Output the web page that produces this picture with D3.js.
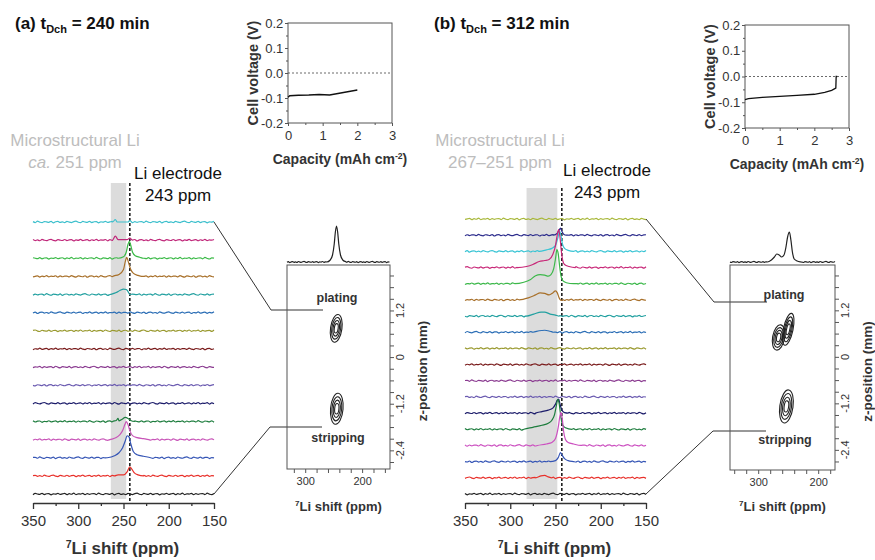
<!DOCTYPE html>
<html>
<head>
<meta charset="utf-8">
<script src="https://cdn.jsdelivr.net/npm/d3@7"></script>
<style>
  body { margin: 0; background: #fff; }
  svg { font-family: "Liberation Sans", Arial, sans-serif; }
</style>
</head>
<body>
<div id="container"></div>
<script>
// ---- data ----
const shiftTicks = [350, 300, 250, 200, 150];
const shiftMinor = [325, 275, 225, 175];
const mapShiftLabels = [300, 200];
const zLabels = [1.2, 0, -1.2, -2.4];
const voltTicks = [-0.2, -0.1, 0, 0.1, 0.2];
const capTicks = [0, 1, 2, 3];

// cell voltage curves
const capA = [0, 0.05, 0.3, 0.6, 0.9, 1.2, 1.4, 1.6, 1.8, 2.0];
const voltA = [-0.097, -0.091, -0.089, -0.088, -0.086, -0.088, -0.083, -0.078, -0.073, -0.068];
const capB = [0, 0.1, 0.5, 1.0, 1.5, 2.0, 2.3, 2.5, 2.62, 2.63, 2.66];
const voltB = [-0.09, -0.086, -0.081, -0.077, -0.073, -0.069, -0.062, -0.054, -0.045, 0.0, 0.0];

// stacked spectra colours, top to bottom
const colorsA = ["#3bbfcc", "#c0287a", "#3cba48", "#a8702a", "#22a0a0", "#2a6db5", "#9a9a30", "#7a1c1c",
                 "#8a3a90", "#6a5ab0", "#1c1c6a", "#1e7d3e", "#c855b8", "#3555b5", "#e8302a", "#222222"];
const colorsB = ["#a8b83a", "#2c2c8c", "#38c4d4", "#c82878", "#3cb84a", "#a8702a", "#22a0a0", "#2a6db5", "#9a9a30",
                 "#7a1c1c", "#8a3a90", "#6a5ab0", "#1c1c6a", "#1e7d3e", "#cc50c0", "#3555b5", "#e8302a", "#222222"];

// peak regions [ppm, intensity], top to bottom (null = flat)
const peaksA = [
  [[262, 0], [259, 2.5], [257, 0], [245, 0], [243, 1.5], [241, 0]],
  [[262, 0], [259, 4], [256, 0.5], [246, 0.5], [243, 2], [240, 0]],
  [[256, 0], [250, 1.5], [247, 6], [245, 14], [243.5, 17], [242, 13], [240, 6], [237, 2.5], [232, 1], [228, 0]],
  [[262, 0], [255, 2], [250, 7], [248, 15], [246.5, 19], [244.5, 14], [242, 7], [239, 3], [234, 1], [230, 0]],
  [[265, 0], [258, 2], [254, 4], [250, 5.5], [247, 5], [245, 3], [243, 0], [240, 0.5], [236, 0]],
  null, null, null, null, null, null,
  [[262, 0], [258, 1], [256, 3], [255, 0.5], [252, 2], [248, 4], [245, 3], [242, 1], [238, 0]],
  [[265, 0], [258, 2], [254, 5], [251, 9], [248.5, 15], [247, 18], [245, 15], [243, 9], [240, 4], [235, 2], [228, 1], [222, 0]],
  [[268, 0], [260, 2], [255, 5], [251, 10], [248, 17], [246, 22], [244, 21], [242, 14], [239, 6], [235, 3], [228, 1.5], [220, 0]],
  [[260, 0], [256, 1], [250, 1], [246, 4], [243, 9], [241, 7], [238, 3], [234, 1], [228, 0]],
  null
];
const peaksB = [
  null,
  [[252, 0], [248, 2], [246, 5], [244.5, 7], [243, 4], [241, 1], [238, 0]],
  [[268, 0], [260, 1.5], [254, 3], [250, 6], [247.5, 13], [245.5, 20], [244, 16], [242.5, 8], [240, 3], [236, 1], [230, 0]],
  [[292, 0], [282, 1], [275, 3], [268, 6], [262, 7], [257, 8], [253, 13], [250, 22], [248, 33], [246.5, 38], [245, 30], [243.5, 16], [242, 7], [240, 3], [235, 1], [228, 0]],
  [[295, 0], [285, 1.5], [278, 4], [272, 8], [267, 9], [262, 8.5], [258, 7.5], [255, 9], [252, 15], [250, 25], [248.5, 34], [247, 30], [245.5, 18], [244, 8], [242, 3], [238, 1], [230, 0]],
  [[290, 0], [280, 2], [272, 5], [267, 7], [262, 6.5], [257, 5], [253, 7], [250, 9], [248, 7], [246, 2], [244, -0.5], [241, 0]],
  [[282, 0], [274, 2], [266, 4], [262, 4], [256, 2], [250, 1], [246, 0]],
  [[275, 0], [268, 1.5], [262, 2], [256, 1], [252, 0]],
  null, null, null, null,
  [[272, 0], [265, 1.5], [258, 3], [253, 5], [250, 9], [248, 13], [246.5, 14], [245, 9], [243, 3], [240, 0.5], [236, 0]],
  [[285, 0], [275, 2], [265, 4], [258, 6], [254, 9], [251, 15], [249, 24], [247.5, 30], [246, 26], [244, 12], [242, 4], [239, 1.5], [232, 0]],
  [[270, 0], [260, 1.5], [254, 3], [250, 7], [247, 18], [245, 30], [244, 33], [242.5, 27], [241, 14], [239, 6], [236, 3], [230, 1.5], [222, 0]],
  [[256, 0], [250, 1], [247, 4], [244.5, 9], [243, 7], [240, 3], [236, 1], [230, 0]],
  [[272, 0], [266, 2], [262, 2.5], [258, 1], [254, 0]],
  null
];

// summed projections over the 2D maps
const projA = [[262, 0], [256, 2], [252, 7], [249, 18], [247, 30], [245, 36], [243, 30], [241, 18], [238, 7], [234, 2], [228, 0]];
const projB = [[285, 0], [278, 2], [273, 5], [269, 8], [265, 7], [261, 5], [257, 7], [254, 14], [251, 25], [248, 30], [245.5, 22], [243, 10], [240, 3], [235, 1], [228, 0]];

// 2D contour blobs: centre ppm, centre z (mm), half widths (ppm, mm), tilt (deg)
const blobsA = [
  {ppm: 245.5, z: 0.74, dppm: 10, dz: 0.36, tilt: 8},
  {ppm: 244.5, z: -1.33, dppm: 11, dz: 0.40, tilt: 5}
];
const blobsB = [
  {ppm: 250, z: 0.71, dppm: 8, dz: 0.42, tilt: 12},
  {ppm: 266, z: 0.5, dppm: 10, dz: 0.33, tilt: 10},
  {ppm: 253, z: -1.28, dppm: 11, dz: 0.43, tilt: 8}
];
const levels = [1, 0.78, 0.56, 0.34];

// baseline noise texture (px)
const wiggle = [0.4, -0.6, 0.9, -0.2, -0.8, 0.5, 0.1, -0.4, 0.7, -0.9, 0.3, 0.6, -0.5, 0.2, -0.7, 0.8,
                -0.1, -0.6, 0.4, 0.9, -0.3, -0.8, 0.6, 0.0, -0.4, 0.7, -0.6, 0.3, 0.5, -0.9, 0.2, -0.2,
                0.8, -0.5, 0.1, 0.6, -0.7, 0.4, -0.3, 0.9, -0.6, 0.2, -0.1, 0.7, -0.8, 0.5, -0.4, 0.3];

// ---- drawing ----
const svg = d3.select("#container").append("svg").attr("width", 875).attr("height", 560);
const ink = "#333";

function spectrumPoints(peak, from, to, seed, amp) {
  const lo = peak ? d3.min(peak, d => d[0]) : null;
  const hi = peak ? d3.max(peak, d => d[0]) : null;
  const pts = [];
  let k = 0;
  for (let p = from; p >= to - 0.01; p -= 2.5, k++) {
    if (peak && p >= lo && p <= hi) continue;
    pts.push([p, amp * wiggle[(k + seed * 11) % wiggle.length]]);
  }
  if (peak) peak.forEach(d => pts.push(d));
  pts.sort((a, b) => b[0] - a[0]);
  return pts;
}

function superText(g, x, y, size, parts, anchor) {
  const t = g.append("text").attr("x", x).attr("y", y).attr("font-size", size)
    .attr("font-weight", "bold").attr("fill", ink).attr("text-anchor", anchor || "middle");
  parts.forEach(p => {
    const s = t.append("tspan").text(p.t);
    if (p.sup) s.attr("font-size", size * 0.62).attr("dy", -size * 0.38);
    if (p.back) s.attr("dy", size * 0.38);
  });
  return t;
}

function drawTitle(x, label, t) {
  const txt = svg.append("text").attr("x", x).attr("y", 29).attr("font-size", 17)
    .attr("font-weight", "bold").attr("fill", "#111");
  txt.append("tspan").text(label + " t");
  txt.append("tspan").text("Dch").attr("font-size", 11).attr("dy", 4);
  txt.append("tspan").text(" = " + t + " min").attr("dy", -4);
}

function drawVoltage(c, caps, volts) {
  const g = svg.append("g");
  const x = d3.scaleLinear().domain([0, 3]).range([c.x0, c.x1]);
  const y = d3.scaleLinear().domain([-0.2, 0.2]).range([c.y1, c.y0]);
  g.append("rect").attr("x", c.x0).attr("y", c.y0).attr("width", c.x1 - c.x0).attr("height", c.y1 - c.y0)
    .attr("fill", "none").attr("stroke", "#555").attr("stroke-width", 1);
  const ax = g.append("g").attr("transform", `translate(0,${c.y1})`)
    .call(d3.axisBottom(x).tickValues(capTicks).tickSize(3).tickSizeOuter(0).tickFormat(d3.format("d")));
  g.append("g").attr("transform", `translate(0,${c.y1})`)
    .call(d3.axisBottom(x).tickValues([0.5, 1.5, 2.5]).tickSize(2).tickFormat(""));
  const ay = g.append("g").attr("transform", `translate(${c.x0},0)`)
    .call(d3.axisLeft(y).tickValues(voltTicks).tickSize(3).tickSizeOuter(0).tickFormat(d => d.toFixed(1)));
  g.append("g").attr("transform", `translate(${c.x0},0)`)
    .call(d3.axisLeft(y).tickValues([-0.15, -0.05, 0.05, 0.15]).tickSize(2).tickFormat(""));
  g.selectAll(".domain").remove();
  g.selectAll(".tick line").attr("stroke", "#555");
  ax.selectAll("text").attr("font-size", 13).attr("fill", ink).attr("font-family", null).attr("dy", "0.85em");
  ay.selectAll("text").attr("font-size", 13).attr("fill", ink).attr("font-family", null).attr("dx", "0.1em");
  g.append("line").attr("x1", c.x0).attr("x2", c.x1).attr("y1", y(0)).attr("y2", y(0))
    .attr("stroke", "#444").attr("stroke-dasharray", "2,2").attr("stroke-width", 0.8);
  g.append("path").datum(caps.map((d, i) => [d, volts[i]]))
    .attr("d", d3.line().x(d => x(d[0])).y(d => y(d[1])))
    .attr("fill", "none").attr("stroke", "#111").attr("stroke-width", 1.3);
  const cy = (c.y0 + c.y1) / 2;
  g.append("text").attr("transform", `translate(${c.x0 - 30},${cy}) rotate(-90)`)
    .attr("text-anchor", "middle").attr("font-size", 14.5).attr("font-weight", "bold").attr("fill", ink)
    .text("Cell voltage (V)");
  superText(g, (c.x0 + c.x1) / 2, c.y1 + 41, 14,
    [{t: "Capacity (mAh cm"}, {t: "-2", sup: true}, {t: ")", back: true}]);
}

function drawStack(c, colors, peaks) {
  const g = svg.append("g");
  const x = d3.scaleLinear().domain([350, 150]).range([c.x0, c.x1]);
  const row = d3.scalePoint().domain(d3.range(colors.length)).range([c.top, c.bottom]);
  const amp = d3.scaleLinear().domain([0, 40]).range([0, -40]);
  g.append("rect").attr("x", x(c.band[0])).attr("y", c.bandTop)
    .attr("width", x(c.band[1]) - x(c.band[0])).attr("height", c.axisY - 4 - c.bandTop)
    .attr("fill", "#dcdcdc");
  g.append("line").attr("x1", x(243)).attr("x2", x(243)).attr("y1", c.bandTop).attr("y2", c.axisY)
    .attr("stroke", "#111").attr("stroke-width", 1.5).attr("stroke-dasharray", "3,2");
  const line = d3.line().x(d => x(d[0])).curve(d3.curveMonotoneX);
  colors.forEach((col, i) => {
    const pts = spectrumPoints(peaks[i], 350, 150, i + c.seed, 0.9);
    g.append("path").datum(pts)
      .attr("d", line.y(d => row(i) + amp(d[1])))
      .attr("fill", "none").attr("stroke", col).attr("stroke-width", 1.2);
  });
  const axis = g.append("g").attr("transform", `translate(0,${c.axisY})`)
    .call(d3.axisBottom(x).tickValues(shiftTicks).tickSize(6).tickSizeOuter(0).tickPadding(6));
  g.append("g").attr("transform", `translate(0,${c.axisY})`)
    .call(d3.axisBottom(x).tickValues(shiftMinor).tickSize(3).tickFormat(""))
    .select(".domain").remove();
  axis.select(".domain").attr("stroke", ink).attr("stroke-width", 1.5);
  g.selectAll(".tick line").attr("stroke", ink).attr("stroke-width", 1.3);
  axis.selectAll("text").attr("font-size", 15).attr("fill", ink).attr("font-family", null);
  superText(g, (c.x0 + c.x1) / 2 - 1, 554, 17, [{t: "7", sup: true}, {t: "Li shift (ppm)", back: true}]);
  // connectors to 2D map
  c.links.forEach(l => {
    g.append("path").attr("d", `M${c.x1},${row(l.row)}L${l.ex},${l.y}L${l.hx},${l.y}`)
      .attr("fill", "none").attr("stroke", ink).attr("stroke-width", 1);
  });
}

function drawMap(c, proj, blobs) {
  const g = svg.append("g");
  const x = d3.scaleLinear().domain(c.ppm).range([c.x0, c.x1]);
  const z = d3.scaleLinear().domain(c.z).range([c.y1, c.y0]);
  const amp = d3.scaleLinear().domain([0, 40]).range([0, -40]);
  g.append("path").datum(spectrumPoints(proj, c.ppm[0], c.ppm[1], c.seed, 0.6))
    .attr("d", d3.line().x(d => x(d[0])).y(d => c.y0 - 3 + amp(d[1])).curve(d3.curveMonotoneX))
    .attr("fill", "none").attr("stroke", "#222").attr("stroke-width", 1.2);
  g.append("rect").attr("x", c.x0).attr("y", c.y0).attr("width", c.x1 - c.x0).attr("height", c.y1 - c.y0)
    .attr("fill", "none").attr("stroke", "#555").attr("stroke-width", 1);
  blobs.forEach(b => {
    levels.forEach(l => {
      const cx = x(b.ppm), cy = z(b.z);
      g.append("ellipse").attr("cx", cx).attr("cy", cy)
        .attr("rx", Math.abs(x(b.ppm + b.dppm * l) - cx))
        .attr("ry", Math.abs(z(b.z + b.dz * l) - cy))
        .attr("transform", `rotate(${b.tilt},${cx},${cy})`)
        .attr("fill", "none").attr("stroke", "#222").attr("stroke-width", 1.1);
    });
  });
  const shiftVals = d3.range(160, 341, 20).filter(v => x(v) >= c.x0 + 2 && x(v) <= c.x1 - 2);
  const bx = g.append("g").attr("transform", `translate(0,${c.y1})`)
    .call(d3.axisBottom(x).tickValues(shiftVals).tickSize(4).tickPadding(4)
      .tickFormat(d => mapShiftLabels.includes(d) ? d : ""));
  bx.select(".domain").remove();
  bx.selectAll("text").attr("font-size", 11).attr("fill", ink).attr("font-family", null);
  const zVals = d3.range(-27, 24, 3).map(v => v / 10).filter(v => z(v) > c.y0 + 2 && z(v) < c.y1 - 2);
  const rz = g.append("g").attr("transform", `translate(${c.x1},0)`)
    .call(d3.axisRight(z).tickValues(zVals).tickSize(4).tickFormat(""));
  rz.select(".domain").remove();
  g.selectAll(".tick line").attr("stroke", "#555");
  zLabels.forEach(v => {
    g.append("text").attr("transform", `translate(${c.x1 + 14},${z(v)}) rotate(-90)`)
      .attr("text-anchor", "middle").attr("font-size", 11).attr("fill", ink).text(v.toFixed(v === 0 ? 0 : 1));
  });
  g.append("text").attr("transform", `translate(${c.x1 + 36.5},${(c.y0 + c.y1) / 2 + 4}) rotate(-90)`)
    .attr("text-anchor", "middle").attr("font-size", 13.5).attr("font-weight", "bold").attr("fill", ink)
    .text("z-position (mm)");
  superText(g, (c.x0 + c.x1) / 2, 511, 13, [{t: "7", sup: true}, {t: "Li shift (ppm)", back: true}]);
  g.append("text").attr("x", c.plating[0]).attr("y", c.plating[1]).attr("text-anchor", "middle")
    .attr("font-size", 12.5).attr("font-weight", "bold").attr("fill", ink).text("plating");
  g.append("text").attr("x", c.stripping[0]).attr("y", c.stripping[1]).attr("text-anchor", "middle")
    .attr("font-size", 12.5).attr("font-weight", "bold").attr("fill", ink).text("stripping");
}

function drawNotes(n, range) {
  const g = svg.append("g").attr("font-size", 17);
  g.append("text").attr("x", n.mx).attr("y", 146).attr("text-anchor", "middle").attr("fill", "#bdbdbd")
    .text("Microstructural Li");
  const r = g.append("text").attr("x", n.mx).attr("y", 168).attr("text-anchor", "middle").attr("fill", "#bdbdbd");
  if (range) r.text(range);
  else { r.append("tspan").attr("font-style", "italic").text("ca."); r.append("tspan").text(" 251 ppm"); }
  g.append("text").attr("x", n.lx).attr("y", n.ly).attr("text-anchor", "middle").attr("fill", "#111").text("Li electrode");
  g.append("text").attr("x", n.lx).attr("y", n.ly + 22).attr("text-anchor", "middle").attr("fill", "#111").text("243 ppm");
}

// panel (a)
drawTitle(15, "(a)", 240);
drawVoltage({x0: 288, x1: 392, y0: 23, y1: 123}, capA, voltA);
drawNotes({mx: 75, lx: 178, ly: 179}, null);
drawStack({x0: 33, x1: 214, top: 222, bottom: 494, axisY: 503, bandTop: 183, band: [264, 247], seed: 0,
  links: [{row: 0, ex: 271, y: 310, hx: 323}, {row: 15, ex: 270, y: 427, hx: 322}]}, colorsA, peaksA);
drawMap({x0: 287, x1: 390, y0: 265, y1: 469, ppm: [332, 151], z: [-2.88, 2.37], seed: 5,
  plating: [337, 302], stripping: [338, 442]}, projA, blobsA);

// panel (b)
drawTitle(434, "(b)", 312);
drawVoltage({x0: 745, x1: 849, y0: 25, y1: 128}, capB, voltB);
drawNotes({mx: 500, lx: 607, ly: 176}, "267\u2013251 ppm");
drawStack({x0: 465, x1: 646, top: 219, bottom: 494, axisY: 503, bandTop: 188, band: [282, 248], seed: 3,
  links: [{row: 0, ex: 714, y: 302, hx: 767}, {row: 17, ex: 713, y: 431, hx: 766}]}, colorsB, peaksB);
drawMap({x0: 730, x1: 835, y0: 265, y1: 470, ppm: [347, 172], z: [-2.92, 2.37], seed: 9,
  plating: [784, 299], stripping: [785, 444]}, projB, blobsB);
</script>
</body>
</html>
